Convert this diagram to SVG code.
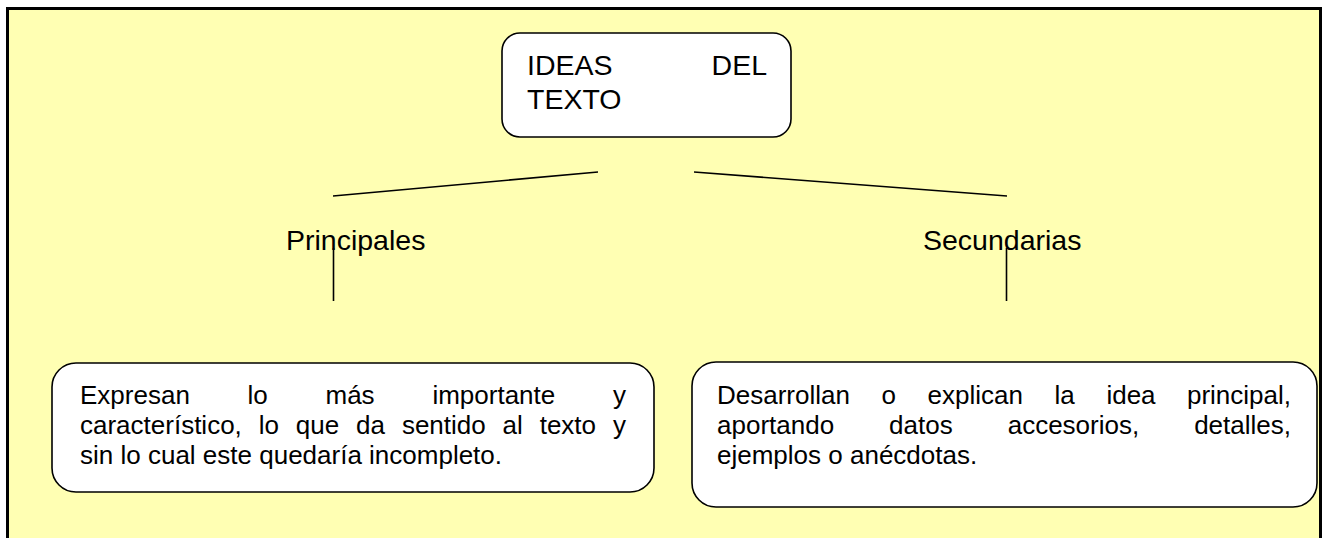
<svg xmlns="http://www.w3.org/2000/svg" width="1323" height="538" viewBox="0 0 1323 538">
<style>
.bg{fill:#FFFFB3}
.frame{fill:none;stroke:#000;stroke-width:3}
.box{fill:#fff;stroke:#000;stroke-width:1.6}
.conn line{stroke:#000;stroke-width:1.6}
text{font-family:"Liberation Sans",Arial,sans-serif;fill:#000}
.big{font-size:28.5px}
.body{font-size:26px}
</style>
<rect class="bg" x="7" y="8" width="1313" height="530"/>
<path class="frame" d="M7.5,538 V8.5 H1320.5 V538"/>
<g class="conn">
<line x1="333" y1="196" x2="598" y2="172"/>
<line x1="694" y1="172" x2="1007" y2="196"/>
<line x1="333.5" y1="248" x2="333.5" y2="301"/>
<line x1="1006.5" y1="248" x2="1006.5" y2="301"/>
</g>
<g id="ideas">
<rect class="box" x="502" y="33" width="289" height="104" rx="18"/>
<text class="big" x="527" y="75">IDEAS</text>
<text class="big" x="767" y="75" text-anchor="end">DEL</text>
<text class="big" x="527" y="109">TEXTO</text>
</g>
<g id="principales">
<text class="big" x="286" y="250">Principales</text>
</g>
<g id="secundarias">
<text class="big" x="923" y="250">Secundarias</text>
</g>
<g id="desc-principales">
<rect class="box" x="52" y="363" width="602" height="129" rx="24"/>
<text class="body" y="404"><tspan x="80">Expresan</tspan><tspan x="247.6">lo</tspan><tspan x="325.5">más</tspan><tspan x="432.4">importante</tspan><tspan x="626" text-anchor="end">y</tspan></text>
<text class="body" y="434"><tspan x="80">característico,</tspan><tspan x="258.7">lo</tspan><tspan x="295.8">que</tspan><tspan x="356.1">da</tspan><tspan x="401.9">sentido</tspan><tspan x="502.6">al</tspan><tspan x="539.7">texto</tspan><tspan x="626" text-anchor="end">y</tspan></text>
<text class="body" x="80" y="464">sin lo cual este quedaría incompleto.</text>
</g>
<g id="desc-secundarias">
<rect class="box" x="692" y="362" width="625" height="145" rx="24"/>
<text class="body" y="404"><tspan x="717">Desarrollan</tspan><tspan x="881.5">o</tspan><tspan x="927.6">explican</tspan><tspan x="1054.6">la</tspan><tspan x="1106.4">idea</tspan><tspan x="1291" text-anchor="end">principal,</tspan></text>
<text class="body" y="434"><tspan x="717">aportando</tspan><tspan x="889.1">datos</tspan><tspan x="1007.7">accesorios,</tspan><tspan x="1291" text-anchor="end">detalles,</tspan></text>
<text class="body" x="717" y="464">ejemplos o anécdotas.</text>
</g>
</svg>
